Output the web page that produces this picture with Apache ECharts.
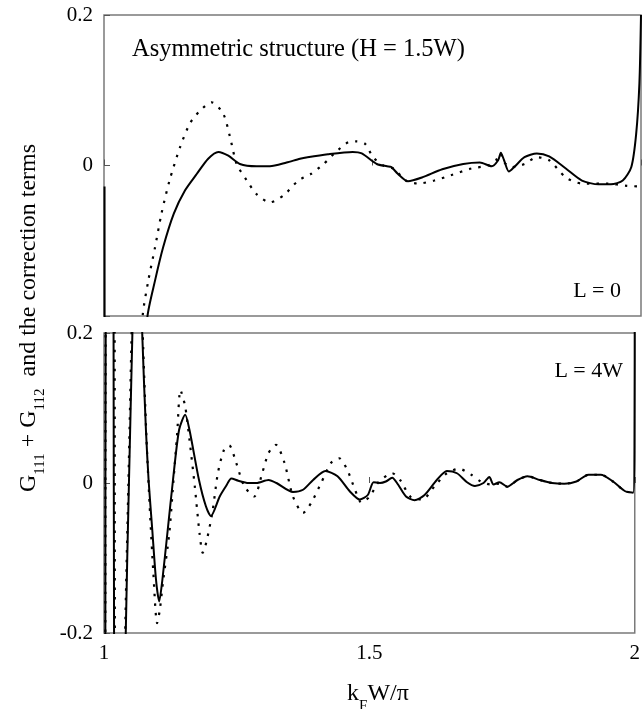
<!DOCTYPE html>
<html>
<head>
<meta charset="utf-8">
<script src="https://cdn.jsdelivr.net/npm/echarts@6/dist/echarts.min.js"></script>
<style>
html,body{margin:0;padding:0;background:#fff;}
#chart{width:643px;height:709px;}
</style>
</head>
<body>
<div id="chart"></div>
<script>
// ---- data ----
const xTicks = [1, 1.5, 2];
const yTicks = [-0.2, 0, 0.2];
const topSolid = [
  [1.001,-0.028],[1.002,-0.5],[1.06,-0.5],[1.072,-0.3],[1.081,-0.2],[1.095,-0.153],[1.11,-0.109],
  [1.13,-0.064],[1.151,-0.033],[1.173,-0.011],[1.194,0.009],[1.213,0.018],[1.2315,0.013],[1.253,0.002],
  [1.284,-0.001],[1.309,-0.001],[1.34,0.004],[1.365,0.009],[1.379,0.011],[1.417,0.015],[1.463,0.018],
  [1.48,0.016],[1.508,0.002],[1.527,-0.001],[1.535,-0.002],[1.547,-0.011],[1.566,-0.021],[1.592,-0.016],
  [1.63,-0.005],[1.669,0.002],[1.70,0.004],[1.722,-0.001],[1.734,0.007],[1.739,0.017],[1.745,0.007],
  [1.754,-0.008],[1.764,-0.002],[1.783,0.011],[1.806,0.016],[1.829,0.012],[1.86,-0.004],[1.89,-0.02],
  [1.921,-0.025],[1.944,-0.025],[1.966,-0.02],[1.982,-0.002],[1.991,0.042],[1.997,0.109],[2.0,0.2]
];
const topDotted = [
  [1.062,-0.35],[1.072,-0.2],[1.0825,-0.153],[1.095,-0.109],[1.107,-0.064],[1.122,-0.02],[1.1415,0.024],
  [1.16,0.056],[1.179,0.073],[1.2005,0.084],[1.222,0.069],[1.2346,0.038],[1.247,0.002],[1.266,-0.02],
  [1.284,-0.038],[1.309,-0.049],[1.334,-0.04],[1.362,-0.02],[1.386,-0.011],[1.409,0.002],[1.432,0.018],
  [1.455,0.031],[1.47,0.032],[1.486,0.029],[1.501,0.011],[1.52,0],[1.539,-0.004],[1.562,-0.02],
  [1.585,-0.024],[1.615,-0.02],[1.646,-0.013],[1.684,-0.004],[1.715,0],[1.73,0.007],[1.738,0.016],
  [1.745,0.004],[1.76,-0.002],[1.783,0.002],[1.806,0.011],[1.829,0.007],[1.86,-0.016],[1.89,-0.024],
  [1.936,-0.024],[1.974,-0.027],[2.0,-0.028]
];
const bottomSolid = [
  [1.0025,-0.3],[1.0035,0.3],[1.01,0.8],[1.0178,0.3],[1.0192,-0.3],[1.03,-0.8],[1.041,-0.2],[1.047,0],
  [1.0535,0.2],[1.062,0.45],[1.072,0.2],[1.079,0.071],[1.084,0.004],[1.091,-0.063],[1.098,-0.129],
  [1.104,-0.158],[1.110,-0.129],[1.12,-0.063],[1.130,0.004],[1.1415,0.071],[1.153,0.091],[1.161,0.071],
  [1.179,0.004],[1.192,-0.031],[1.2015,-0.044],[1.218,-0.018],[1.23,-0.004],[1.24,0.006],[1.253,0.003],
  [1.272,0],[1.287,0],[1.31,0.004],[1.325,0],[1.356,-0.012],[1.375,-0.009],[1.394,0.004],[1.417,0.016],
  [1.44,0.009],[1.463,-0.011],[1.482,-0.022],[1.497,-0.016],[1.508,0.001],[1.52,0],[1.531,0.002],
  [1.543,0.007],[1.554,-0.002],[1.569,-0.018],[1.585,-0.023],[1.604,-0.016],[1.627,0.004],[1.646,0.016],
  [1.665,0.013],[1.684,0.001],[1.699,-0.004],[1.715,0],[1.726,0.008],[1.734,-0.002],[1.745,0.001],
  [1.76,-0.005],[1.779,0.004],[1.798,0.009],[1.821,0.004],[1.844,0],[1.867,-0.001],[1.89,0.002],
  [1.913,0.011],[1.936,0.011],[1.959,0.002],[1.982,-0.011],[1.997,-0.013],[1.9995,0.05],[2.0,0.3]
];
const bottomDotted = [
  [1.0025,-0.3],[1.0035,0.3],[1.011,0.8],[1.0195,0.3],[1.021,-0.3],[1.03,-0.8],[1.040,-0.2],[1.046,0],
  [1.052,0.2],[1.061,0.5],[1.073,0.2],[1.08,0.06],[1.086,-0.03],[1.093,-0.12],[1.1,-0.187],[1.105,-0.17],
  [1.111,-0.133],[1.123,-0.067],[1.1305,0],[1.138,0.067],[1.144,0.124],[1.153,0.102],[1.161,0.058],
  [1.171,-0.004],[1.18,-0.067],[1.186,-0.093],[1.203,-0.044],[1.2145,0.013],[1.226,0.044],[1.236,0.05],
  [1.249,0.027],[1.264,-0.004],[1.283,-0.018],[1.298,0.013],[1.31,0.04],[1.324,0.051],[1.34,0.027],
  [1.356,-0.018],[1.375,-0.04],[1.39,-0.027],[1.409,0],[1.428,0.027],[1.443,0.033],[1.458,0.018],
  [1.473,-0.009],[1.485,-0.026],[1.501,-0.018],[1.516,0],[1.543,0.013],[1.558,0.004],[1.577,-0.018],
  [1.6,-0.022],[1.623,-0.004],[1.646,0.013],[1.669,0.019],[1.692,0.011],[1.71,0.002],[1.729,-0.002],
  [1.745,-0.001],[1.76,-0.005],[1.779,0.004],[1.798,0.009],[1.821,0.004],[1.844,0],[1.867,-0.001],
  [1.89,0.002],[1.913,0.011],[1.936,0.011],[1.959,0.002],[1.982,-0.011],[2.0,-0.013]
];
const titleText = 'Asymmetric structure (H = 1.5W)';
const panelLabels = ['L = 0', 'L = 4W'];

// ---- chart ----
const FONT = '"Liberation Serif", "DejaVu Serif", "Times New Roman", serif';
const chart = echarts.init(document.getElementById('chart'), null, {renderer: 'canvas'});

function fmtY(v) { return v === 0 ? '0' : v.toFixed(1); }
function fmtX(v) { return String(v); }

const gridStyle = {show: true, borderColor: '#7a7a7a', borderWidth: 1.5, backgroundColor: 'transparent'};

function xAxis(gridIndex, showLabels) {
  return {
    type: 'value', gridIndex, min: xTicks[0], max: xTicks[xTicks.length - 1], interval: 0.5,
    axisLine: {show: false},
    axisTick: {show: true, inside: true, length: 6, lineStyle: {color: '#555', width: 1}},
    splitLine: {show: false},
    axisLabel: {show: showLabels, margin: 10, color: '#000', fontFamily: FONT, fontSize: 21,
      formatter: fmtX}
  };
}
function yAxis(gridIndex, hideBottom) {
  return {
    type: 'value', gridIndex, min: yTicks[0], max: yTicks[yTicks.length - 1], interval: 0.2,
    axisLine: {show: false},
    axisTick: {show: true, inside: true, length: 6, lineStyle: {color: '#555', width: 1}},
    splitLine: {show: false},
    axisLabel: {show: true, margin: 11, color: '#000', fontFamily: FONT, fontSize: 21,
      formatter: v => (hideBottom && v < -0.1) ? '' : fmtY(v)}
  };
}
function lineSeries(data, idx, dotted) {
  return {
    type: 'line', xAxisIndex: idx, yAxisIndex: idx, data, showSymbol: false, symbol: 'none',
    smooth: 0.25, clip: true, animation: false, z: dotted ? 2 : 3,
    lineStyle: dotted ? {color: '#000', width: 2.2, type: [2.5, 7]} : {color: '#000', width: 2}
  };
}

const yRich = {
  m: {fontFamily: FONT, fontSize: 24, lineHeight: 26, verticalAlign: 'top', color: '#000'},
  s: {fontFamily: FONT, fontSize: 15, lineHeight: 15, padding: [16, 0, 0, 0], verticalAlign: 'top', color: '#000'}
};
const xRich = {
  m: {fontFamily: FONT, fontSize: 24, lineHeight: 26, verticalAlign: 'top', color: '#000'},
  s: {fontFamily: FONT, fontSize: 15, lineHeight: 15, padding: [17, 0, 0, 0], verticalAlign: 'top', color: '#000'}
};

chart.setOption({
  animation: false,
  backgroundColor: '#fff',
  grid: [
    Object.assign({left: 104, top: 15, width: 537, height: 301}, gridStyle),
    Object.assign({left: 104, top: 333, width: 537, height: 300}, gridStyle)
  ],
  xAxis: [xAxis(0, false), xAxis(1, true)],
  yAxis: [yAxis(0, true), yAxis(1, false)],
  series: [
    lineSeries(topDotted, 0, true),
    lineSeries(topSolid, 0, false),
    lineSeries(bottomDotted, 1, true),
    lineSeries(bottomSolid, 1, false)
  ],
  graphic: [
    {type: 'text', left: 132, top: 37, silent: true,
      style: {text: titleText, fontFamily: FONT, fontSize: 24.5, fill: '#000'}},
    {type: 'text', right: 22, top: 280, silent: true,
      style: {text: panelLabels[0], fontFamily: FONT, fontSize: 22, fill: '#000'}},
    {type: 'text', right: 20, top: 360, silent: true,
      style: {text: panelLabels[1], fontFamily: FONT, fontSize: 22, fill: '#000'}},
    {type: 'text', x: 30, y: 318, rotation: Math.PI / 2, silent: true,
      style: {text: '{m|G}{s|111}{m| + G}{s|112}{m|  and the correction terms}', rich: yRich,
        align: 'center', verticalAlign: 'middle'}},
    {type: 'text', x: 378, y: 695, silent: true,
      style: {text: '{m|k}{s|F}{m|W/π}', rich: xRich, align: 'center', verticalAlign: 'middle'}}
  ]
});
</script>
</body>
</html>
